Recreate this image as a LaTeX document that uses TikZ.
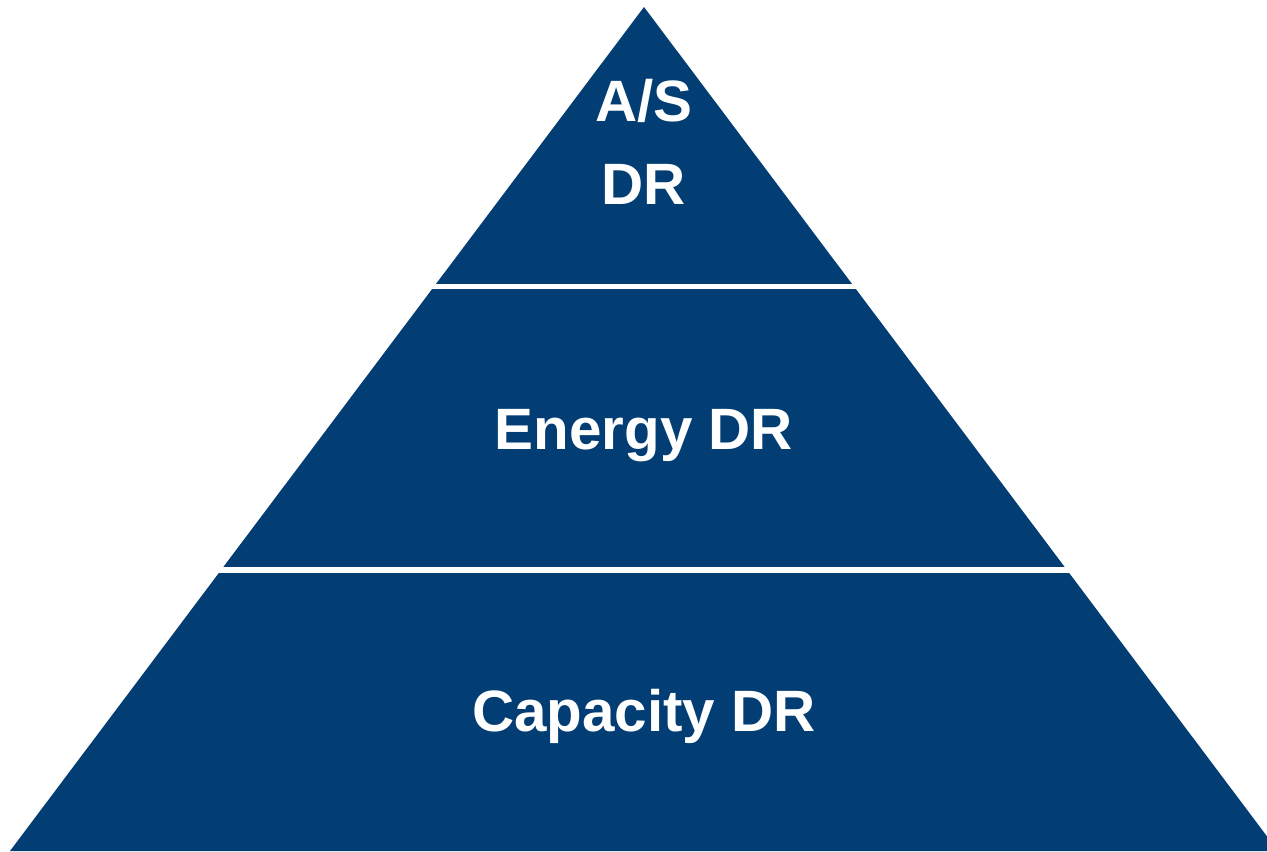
\documentclass[tikz,border=0pt]{standalone}
\usepackage{fontspec}
\setmainfont{Liberation Sans}
\usepackage{tikz}
\definecolor{drblue}{RGB}{2,62,116}
\tikzstyle{tier} = [fill=drblue,draw=none]
\tikzstyle{gap} = [fill=white,draw=none]
\tikzstyle{lbl} = [text=white,font=\fontsize{16.6}{23.6}\selectfont\bfseries,inner sep=0,anchor=base]

\begin{document}
\begin{tikzpicture}
    \useasboundingbox (0,0) rectangle (12.67,8.51);
    \clip (0,0) rectangle (12.67,8.51);

    % pyramid and the two white cuts
    \coordinate (top) at (6.44,8.44);
    \coordinate (bl) at (0.10,0.0);
    \coordinate (br) at (12.78,0.0);
    \fill[tier] (top) -- (br) -- (bl) -- cycle;
    \fill[gap] (0,5.62) rectangle (12.67,5.67);
    \fill[gap] (0,2.78) rectangle (12.67,2.84);

    \node[lbl] (as) at (6.44,7.29) {A/S};
    \node[lbl] (asdr) at (6.44,6.46) {DR};
    \node[lbl] (energy) at (6.44,4.02) {Energy DR};
    \node[lbl] (capacity) at (6.44,1.20) {Capacity DR};

\end{tikzpicture}
\end{document}
